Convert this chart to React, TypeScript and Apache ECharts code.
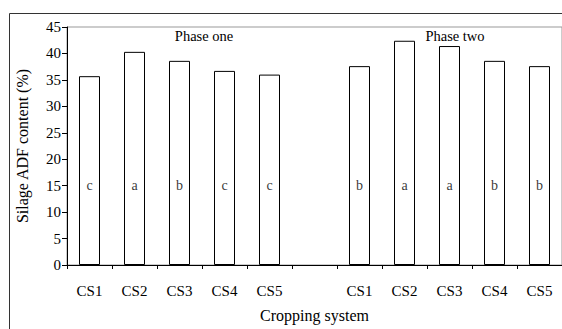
import React, { useEffect, useRef } from "react";
import * as echarts from "echarts";

const categories = ["CS1", "CS2", "CS3", "CS4", "CS5", "", "CS1", "CS2", "CS3", "CS4", "CS5"];
const adfValues: (number | null)[] = [35.7, 40.3, 38.6, 36.7, 36.0, null, 37.6, 42.4, 41.4, 38.6, 37.6];
const letters = ["c", "a", "b", "c", "c", "", "b", "a", "a", "b", "b"];
const letterLevel = 15;
const phaseLabels = ["Phase one", "Phase two"];
const yTicks = { min: 0, max: 45, interval: 5 };

const FONT = "'Liberation Serif', 'Times New Roman', serif";

export default function App() {
  const ref = useRef<HTMLDivElement>(null);
  useEffect(() => {
    if (!ref.current) return;
    const chart = echarts.init(ref.current, undefined, { renderer: "svg" });
    const letterData = letters
      .map((l, i) => (l ? { value: [i, letterLevel], letter: l } : null))
      .filter((d) => d !== null);
    chart.setOption({
      animation: false,
      backgroundColor: "#fff",
      textStyle: { fontFamily: FONT, color: "#000" },
      grid: {
        left: 67,
        top: 27,
        width: 496,
        height: 238,
        show: true,
        borderColor: "#999",
        borderWidth: 1,
        backgroundColor: "transparent",
      },
      xAxis: {
        type: "category",
        data: categories,
        name: "Cropping system",
        nameLocation: "middle",
        nameGap: 42,
        nameTextStyle: { fontFamily: FONT, fontSize: 16, color: "#000" },
        axisLine: { lineStyle: { color: "#000", width: 1 } },
        axisTick: { show: true, length: 4, inside: false, lineStyle: { color: "#000" } },
        axisLabel: { fontFamily: FONT, fontSize: 15, color: "#000", margin: 18, interval: 0 },
      },
      yAxis: {
        type: "value",
        min: yTicks.min,
        max: yTicks.max,
        interval: yTicks.interval,
        name: "Silage ADF content (%)",
        nameLocation: "middle",
        nameGap: 37,
        nameTextStyle: { fontFamily: FONT, fontSize: 16, color: "#000" },
        axisLine: { show: true, lineStyle: { color: "#000", width: 1 } },
        axisTick: { show: true, length: 5, lineStyle: { color: "#000" } },
        axisLabel: { fontFamily: FONT, fontSize: 15, color: "#000", margin: 6 },
        splitLine: { show: false },
      },
      series: [
        {
          type: "bar",
          data: adfValues,
          barWidth: 21,
          itemStyle: { color: "#fff", borderColor: "#000", borderWidth: 1 },
          silent: true,
          z: 2,
        },
        {
          type: "scatter",
          data: letterData,
          symbolSize: 0,
          silent: true,
          z: 3,
          itemStyle: { color: "#000" },
          label: {
            show: true,
            position: [0, 0],
            align: "center",
            verticalAlign: "middle",
            formatter: (p: any) => p.data.letter,
            fontFamily: FONT,
            fontSize: 14,
            color: "#000",
            textBorderWidth: 0,
          },
          emphasis: { disabled: true },
        },
      ],
      graphic: [
        {
          type: "rect",
          shape: { x: 9.5, y: 13.5, width: 700, height: 500 },
          style: { fill: "none", stroke: "#333", lineWidth: 1 },
          silent: true,
        },
        {
          type: "text",
          x: 204,
          y: 36,
          style: {
            text: phaseLabels[0],
            fontFamily: FONT,
            fontSize: 14.5,
            fill: "#000",
            align: "center",
            verticalAlign: "middle",
          },
        },
        {
          type: "text",
          x: 455,
          y: 36,
          style: {
            text: phaseLabels[1],
            fontFamily: FONT,
            fontSize: 14.5,
            fill: "#000",
            align: "center",
            verticalAlign: "middle",
          },
        },
      ],
    });
    return () => chart.dispose();
  }, []);
  return (
    <div
      ref={ref}
      style={{ position: "fixed", left: 0, top: 0, width: 562, height: 329, background: "#fff" }}
    />
  );
}
